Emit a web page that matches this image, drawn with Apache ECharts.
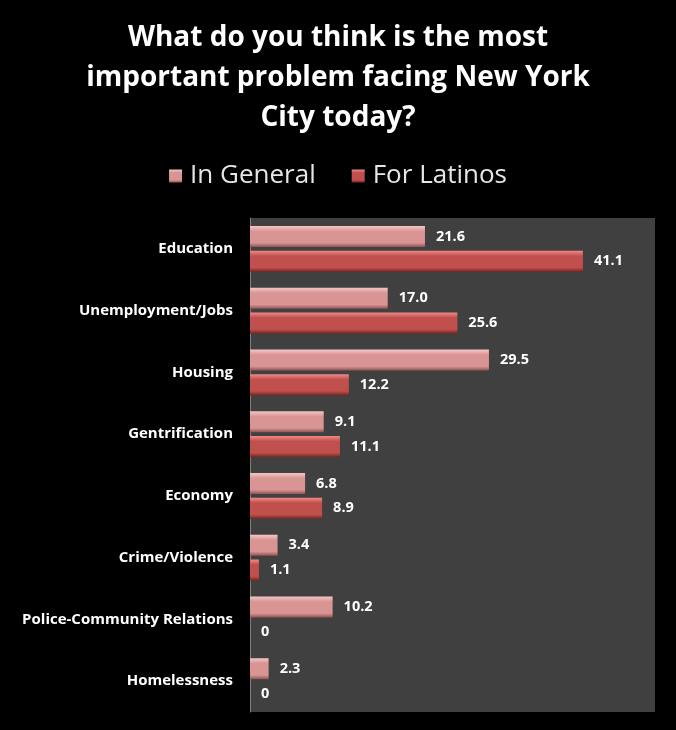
<!DOCTYPE html>
<html><head><meta charset="utf-8">
<script src="https://cdn.jsdelivr.net/npm/echarts@6/dist/echarts.min.js"></script>
<style>html,body{margin:0;padding:0;background:#000;}#c{width:676px;height:730px;}</style>
</head><body><div id="c"></div>
<script>
const categories = ["Education","Unemployment/Jobs","Housing","Gentrification","Economy","Crime/Violence","Police-Community Relations","Homelessness"];
const inGeneral = [21.6, 17.0, 29.5, 9.1, 6.8, 3.4, 10.2, 2.3];
const forLatinos = [41.1, 25.6, 12.2, 11.1, 8.9, 1.1, 0, 0];
const seriesNames = ["In General", "For Latinos"];

const chart = echarts.init(document.getElementById('c'), null, {renderer:'canvas'});
function grad(top, mid, bot){
  return new echarts.graphic.LinearGradient(0,0,0,1,[
    {offset:0,color:top},{offset:0.25,color:mid},{offset:0.8,color:mid},{offset:1,color:bot}]);
}
const fontFam = '"Open Sans", Lato, sans-serif';
const lbl = {show:true, position:'right', distance:11, color:'#fff', fontWeight:'bold', fontSize:14.5, fontFamily:fontFam,
  formatter:p=>p.value===0?'0':p.value.toFixed(1)};
chart.setOption({
  backgroundColor:'#000',
  animation:false,
  title:{
    text:'What do you think is the most\nimportant problem facing New York\nCity today?',
    left:'center', top:13,
    textStyle:{color:'#fff', fontSize:28, fontWeight:'bold', fontFamily:fontFam, lineHeight:40}
  },
  legend:{
    data:seriesNames, top:158, left:'center', itemWidth:13, itemHeight:13, itemGap:36,
    icon:'rect',
    textStyle:{color:'#e6e6e6', fontSize:26, fontFamily:fontFam, padding:[0,0,0,3]}
  },
  grid:{left:250, right:21, top:218, bottom:18, show:true, backgroundColor:'#404040', borderWidth:0},
  xAxis:{type:'value', min:0, max:50, show:false},
  yAxis:{type:'category', data:categories, inverse:true,
    axisLine:{show:true, lineStyle:{color:'#7f7f7f', width:1}},
    axisTick:{show:false},
    axisLabel:{color:'#fff', fontWeight:'bold', fontSize:15, fontFamily:fontFam, margin:17}
  },
  series:[
    {name:seriesNames[0], type:'bar', data:inGeneral, barWidth:21, barGap:'18%',
      itemStyle:{color:grad('#f2c8c7','#d99594','#8f5554')},
      label:lbl},
    {name:seriesNames[1], type:'bar', data:forLatinos, barWidth:21,
      itemStyle:{color:grad('#f08a88','#c0504d','#7a2523')},
      label:lbl}
  ]
});
</script></body></html>
